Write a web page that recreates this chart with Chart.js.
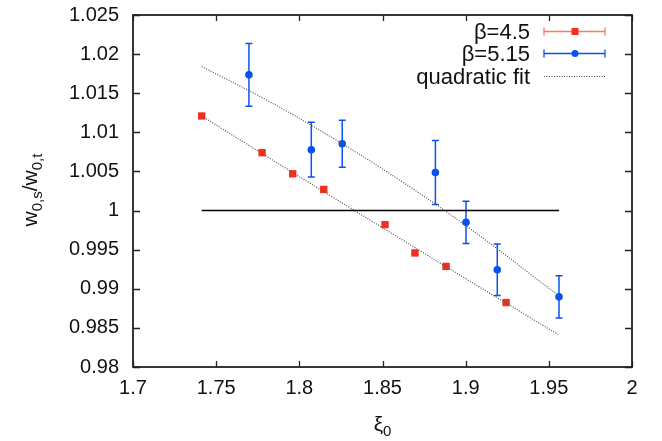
<!DOCTYPE html>
<html>
<head>
<meta charset="utf-8">
<script src="https://cdn.jsdelivr.net/npm/chart.js@4.4.1/dist/chart.umd.min.js"></script>
<style>
html,body{margin:0;padding:0;background:#fff;}
#wrap{width:662px;height:441px;position:relative;}
</style>
</head>
<body>
<div id="wrap"><canvas id="c" width="662" height="441"></canvas></div>
<script>
// ---- data ----
const xiRed   = [1.7413, 1.7776, 1.7960, 1.8147, 1.8515, 1.8695, 1.8882, 1.9243];
const wRed    = [1.01209, 1.0074, 1.0047, 1.0027, 0.9982, 0.99458, 0.99286, 0.98824];
const errRed  = [0.0002, 0.0003, 0.0003, 0.0003, 0.0002, 0.0002, 0.0001, 0.0001];

const xiBlue  = [1.7697, 1.8072, 1.8258, 1.8818, 1.9002, 1.9190, 1.9561];
const wBlue   = [1.01735, 1.00778, 1.00855, 1.00487, 0.9985, 0.99244, 0.98897];
const errBlue = [0.0040, 0.0035, 0.0030, 0.0041, 0.0027, 0.0033, 0.0027];

const fitRedX  = [1.7413, 1.78, 1.82, 1.86, 1.90, 1.9557];
const fitRedY  = [1.01209, 1.00697, 1.00172, 0.9965, 0.9913, 0.98414];
const fitBlueX = [1.7413, 1.78, 1.82, 1.86, 1.90, 1.9561];
const fitBlueY = [1.01842, 1.01416, 1.00929, 1.00393, 0.99809, 0.98910];

const refLineX = [1.7413, 1.9561];
const refLineY = [1, 1];

const xTicks = [1.7, 1.75, 1.8, 1.85, 1.9, 1.95, 2];
const yTicks = [0.98, 0.985, 0.99, 0.995, 1, 1.005, 1.01, 1.015, 1.02, 1.025];
const legendLabels = ['β=4.5', 'β=5.15', 'quadratic fit'];

const RED = '#f2301f';
const RED_LIGHT = '#f77a6e';
const BLUE = '#0a52f0';
const FONT = '"Liberation Sans", Arial, Helvetica, sans-serif';

const pts = (xs, ys) => xs.map((x, i) => ({x: x, y: ys[i]}));

const errorBars = {
  id: 'errorBars',
  beforeDatasetsDraw(chart) {
    const ctx = chart.ctx, xs = chart.scales.x, ys = chart.scales.y;
    const draw = (X, Y, E, col, w) => {
      ctx.save();
      ctx.strokeStyle = col; ctx.lineWidth = w;
      for (let i = 0; i < X.length; i++) {
        const px = xs.getPixelForValue(X[i]);
        const pt = ys.getPixelForValue(Y[i] + E[i]);
        const pb = ys.getPixelForValue(Y[i] - E[i]);
        ctx.beginPath();
        ctx.moveTo(px, pt); ctx.lineTo(px, pb);
        ctx.moveTo(px - 3.5, pt); ctx.lineTo(px + 3.5, pt);
        ctx.moveTo(px - 3.5, pb); ctx.lineTo(px + 3.5, pb);
        ctx.stroke();
      }
      ctx.restore();
    };
    draw(xiRed, wRed, errRed, RED_LIGHT, 1.2);
    draw(xiBlue, wBlue, errBlue, BLUE, 1.5);
  }
};

const frame = {
  id: 'frame',
  afterDraw(chart) {
    const ctx = chart.ctx, a = chart.chartArea, xs = chart.scales.x, ys = chart.scales.y;
    ctx.save();
    ctx.strokeStyle = '#222'; ctx.lineWidth = 1.3;
    // inward ticks on all four sides
    ctx.beginPath();
    xTicks.forEach(v => {
      const p = Math.round(xs.getPixelForValue(v)) + 0.5;
      ctx.moveTo(p, a.bottom); ctx.lineTo(p, a.bottom - 6);
      ctx.moveTo(p, a.top); ctx.lineTo(p, a.top + 6);
    });
    yTicks.forEach(v => {
      const p = Math.round(ys.getPixelForValue(v)) + 0.5;
      ctx.moveTo(a.left, p); ctx.lineTo(a.left + 7, p);
      ctx.moveTo(a.right, p); ctx.lineTo(a.right - 7, p);
    });
    ctx.stroke();
    ctx.lineWidth = 1.8;
    ctx.strokeRect(a.left, a.top, a.right - a.left, a.bottom - a.top);

    // axis titles with subscripts
    ctx.fillStyle = '#111';
    ctx.textBaseline = 'alphabetic';
    // x title: ξ0
    const xc = (a.left + a.right) / 2;
    ctx.font = '21px ' + FONT;
    ctx.textAlign = 'left';
    const wXi = ctx.measureText('ξ').width;
    ctx.font = '15px ' + FONT;
    const w0 = ctx.measureText('0').width;
    let sx = xc - (wXi + w0) / 2;
    ctx.font = '21px ' + FONT;
    ctx.fillText('ξ', sx, 431);
    ctx.font = '15px ' + FONT;
    ctx.fillText('0', sx + wXi, 436);

    // y title: w0,s/w0,t rotated
    ctx.save();
    ctx.translate(37, 190);
    ctx.rotate(-Math.PI / 2);
    const parts = [['w', 21, 0], ['0,s', 15, 5], ['/w', 21, 0], ['0,t', 15, 5]];
    let tot = 0;
    parts.forEach(p => { ctx.font = p[1] + 'px ' + FONT; tot += ctx.measureText(p[0]).width; });
    let cx = -tot / 2;
    parts.forEach(p => {
      ctx.font = p[1] + 'px ' + FONT;
      ctx.fillText(p[0], cx, p[2]);
      cx += ctx.measureText(p[0]).width;
    });
    ctx.restore();

    // legend
    const rows = [31.5, 53.5, 76.5];
    const textRight = 530, l0 = 544, l1 = 605, lm = 575;
    ctx.font = '22px ' + FONT;
    ctx.textAlign = 'right';
    ctx.textBaseline = 'middle';
    legendLabels.forEach((t, i) => ctx.fillText(t, textRight, rows[i] + 1));
    // red sample
    ctx.strokeStyle = RED_LIGHT; ctx.lineWidth = 1.3;
    ctx.beginPath();
    ctx.moveTo(l0, rows[0]); ctx.lineTo(l1, rows[0]);
    ctx.moveTo(l0, rows[0] - 4); ctx.lineTo(l0, rows[0] + 4);
    ctx.moveTo(l1, rows[0] - 4); ctx.lineTo(l1, rows[0] + 4);
    ctx.stroke();
    ctx.fillStyle = RED;
    ctx.fillRect(lm - 3.5, rows[0] - 3.5, 7, 7);
    // blue sample
    ctx.strokeStyle = BLUE; ctx.lineWidth = 1.3;
    ctx.beginPath();
    ctx.moveTo(l0, rows[1]); ctx.lineTo(l1, rows[1]);
    ctx.moveTo(l0, rows[1] - 4); ctx.lineTo(l0, rows[1] + 4);
    ctx.moveTo(l1, rows[1] - 4); ctx.lineTo(l1, rows[1] + 4);
    ctx.stroke();
    ctx.fillStyle = BLUE;
    ctx.beginPath(); ctx.arc(lm, rows[1], 3.5, 0, Math.PI * 2); ctx.fill();
    // fit sample
    ctx.strokeStyle = '#444'; ctx.lineWidth = 1;
    ctx.setLineDash([1, 1.5]);
    ctx.beginPath(); ctx.moveTo(l0, rows[2]); ctx.lineTo(l1, rows[2]); ctx.stroke();
    ctx.restore();
  }
};

new Chart(document.getElementById('c'), {
  type: 'scatter',
  data: {
    datasets: [
      { label: 'y=1', data: pts(refLineX, refLineY), showLine: true, borderColor: '#000', borderWidth: 1.5, pointRadius: 0 },
      { label: 'fit red', data: pts(fitRedX, fitRedY), showLine: true, borderColor: '#555', borderWidth: 1.2, borderDash: [1, 1.5], pointRadius: 0, tension: 0.4 },
      { label: 'fit blue', data: pts(fitBlueX, fitBlueY), showLine: true, borderColor: '#555', borderWidth: 1.2, borderDash: [1, 1.5], pointRadius: 0, tension: 0.4 },
      { label: legendLabels[0], data: pts(xiRed, wRed), pointStyle: 'rect', pointRadius: 5.2, backgroundColor: RED, borderColor: RED, borderWidth: 0 },
      { label: legendLabels[1], data: pts(xiBlue, wBlue), pointStyle: 'circle', pointRadius: 3.8, backgroundColor: BLUE, borderColor: BLUE, borderWidth: 0 }
    ]
  },
  options: {
    responsive: false,
    animation: false,
    events: [],
    layout: { padding: { left: 0, right: 30, top: 15, bottom: 0 } },
    plugins: { legend: { display: false }, tooltip: { enabled: false } },
    scales: {
      x: {
        type: 'linear', min: 1.7, max: 2,
        afterBuildTicks: s => { s.ticks = xTicks.map(v => ({ value: v })); },
        afterFit: s => { s.height = 74; s.paddingLeft = 0; s.paddingRight = 0; },
        grid: { display: false, drawTicks: false },
        border: { display: false },
        ticks: { color: '#111', font: { family: FONT, size: 20 }, padding: 9, maxRotation: 0, autoSkip: false,
                 callback: v => String(Number(v.toFixed(3))) }
      },
      y: {
        type: 'linear', min: 0.98, max: 1.025,
        afterBuildTicks: s => { s.ticks = yTicks.map(v => ({ value: v })); },
        afterFit: s => { s.width = 133; s.paddingTop = 0; s.paddingBottom = 0; },
        grid: { display: false, drawTicks: false },
        border: { display: false },
        ticks: { color: '#111', font: { family: FONT, size: 20 }, padding: 14, autoSkip: false,
                 callback: v => String(Number(v.toFixed(3))) }
      }
    }
  },
  plugins: [errorBars, frame]
});
</script>
</body>
</html>
